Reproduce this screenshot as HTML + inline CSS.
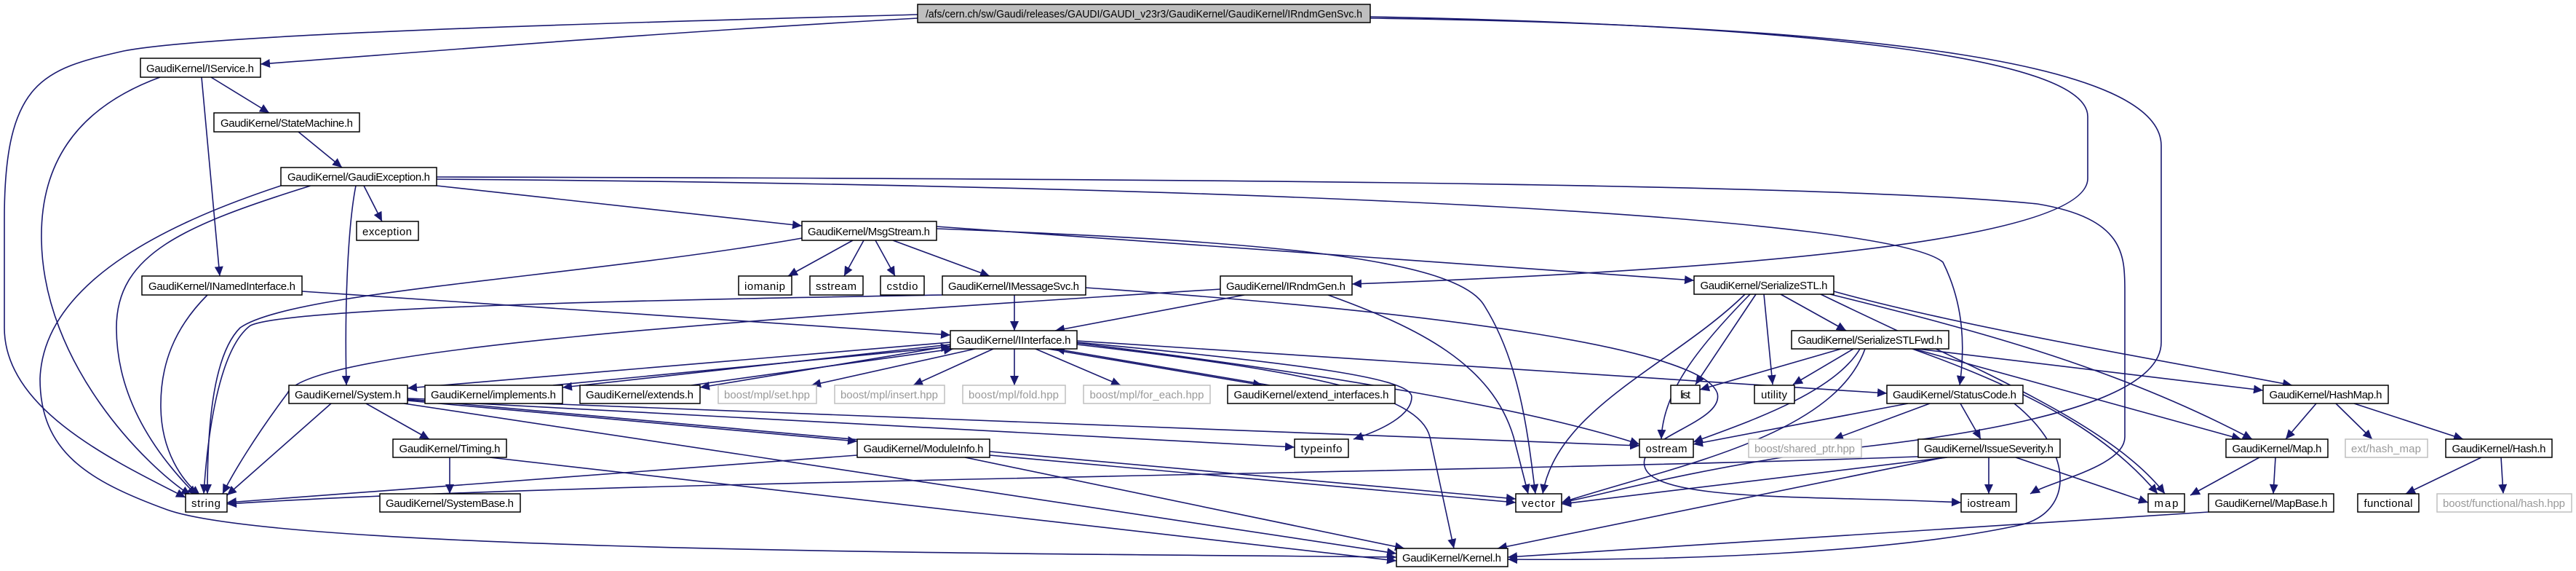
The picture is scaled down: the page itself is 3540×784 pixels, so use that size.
<!DOCTYPE html>
<html><head><meta charset="utf-8"><style>
html,body{margin:0;padding:0;background:#fff;}
svg{display:block;}
text{font-family:"Liberation Sans","DejaVu Sans",sans-serif;font-size:15px;}
</style></head><body>
<svg width="3540" height="784" viewBox="0 0 3540 784" xmlns="http://www.w3.org/2000/svg">
<defs>
<marker id="a" markerUnits="userSpaceOnUse" markerWidth="14" markerHeight="12" refX="13" refY="6" orient="auto">
<path d="M0,0 L13,6 L0,12 z" fill="#191970"/>
</marker>
</defs>
<g fill="none" stroke="#191970" stroke-width="1.6" marker-end="url(#a)">
<path d="M1261,25 C900,45 600,70 358,88"/>
<path d="M1261,20 C900,30 300,45 170,70 C60,95 6,110 6,300 L6,450 C6,560 150,630 255,683"/>
<path d="M1883,23 C2500,35 2869,80 2869,160 L2869,245 C2869,330 2400,370 1858,390"/>
<path d="M1883,25 C2600,35 2970,90 2970,200 L2970,470 C2970,560 2700,600 2500,620 C2300,650 2200,680 2146,690"/>
<path d="M290,106 L370,155"/>
<path d="M277,106 L302,379"/>
<path d="M220,106 C100,150 55,230 57,330 C60,500 200,640 262,680"/>
<path d="M410,181 L470,230"/>
<path d="M500,255 L525,304"/>
<path d="M600,255 L1102,310"/>
<path d="M489,255 C480,300 473,400 476,529"/>
<path d="M427,255 C250,310 160,350 160,450 C160,560 230,640 270,680"/>
<path d="M386,255 C250,300 60,380 55,520 C55,620 120,660 230,700 C400,760 1500,760 1919,765"/>
<path d="M600,246 C1800,255 2600,300 2670,360 C2700,420 2700,480 2693,529"/>
<path d="M600,243 C1500,245 2500,250 2800,280 C2920,300 2920,350 2920,400 L2920,600 C2920,640 2820,660 2790,678"/>
<path d="M285,405 C240,450 220,500 221,560 C222,620 250,660 275,680"/>
<path d="M415,400 L1306,460"/>
<path d="M1172,330 L1083,379"/>
<path d="M1187,330 L1160,379"/>
<path d="M1203,330 L1230,379"/>
<path d="M1227,330 L1360,379"/>
<path d="M1102,327 C800,380 400,400 330,450 C290,490 285,600 285,678"/>
<path d="M1287,314 C1700,330 2000,350 2040,420 C2090,500 2100,600 2110,678"/>
<path d="M1287,311 L2328,385"/>
<path d="M1394,405 L1394,454"/>
<path d="M1295,405 C1000,410 400,420 344,447 C300,480 285,600 280,678"/>
<path d="M1492,395 C2000,430 2340,480 2360,540 C2370,580 2250,600 2260,640 C2270,690 2500,680 2695,690"/>
<path d="M1710,405 L1450,454"/>
<path d="M1677,397 C1000,440 420,480 395,540 C350,600 320,650 306,678"/>
<path d="M1825,405 C1950,450 2050,500 2080,600 L2100,678"/>
<path d="M1306,470 L560,533"/>
<path d="M1306,473 L773,532"/>
<path d="M760,529 L1306,476"/>
<path d="M1306,475 L962,532"/>
<path d="M950,529 L1310,479"/>
<path d="M1340,479 L1115,529"/>
<path d="M1365,479 L1255,529"/>
<path d="M1394,479 L1394,529"/>
<path d="M1423,479 L1540,529"/>
<path d="M1440,479 L1735,529"/>
<path d="M1745,529 L1450,479"/>
<path d="M1480,470 C1800,500 1940,520 1940,545 C1940,570 1900,590 1860,603"/>
<path d="M1480,473 C1800,510 1950,540 1965,600 L1998,753"/>
<path d="M1480,471 C1800,510 2100,560 2253,610"/>
<path d="M1480,468 L2593,540"/>
<path d="M455,554 L312,680"/>
<path d="M503,554 L590,603"/>
<path d="M560,550 L1178,606"/>
<path d="M560,549 L1779,614"/>
<path d="M560,548 L2083,685"/>
<path d="M555,554 L1919,760"/>
<path d="M560,547 L2253,612"/>
<path d="M618,628 L618,678"/>
<path d="M673,628 L1919,770"/>
<path d="M1178,625 L312,690"/>
<path d="M1360,625 L2083,690"/>
<path d="M1326,628 L1930,753"/>
<path d="M2447,404 L2537,454"/>
<path d="M2413,404 L2330,528"/>
<path d="M2424,404 L2436,528"/>
<path d="M2405,404 C2330,480 2285,540 2283,603"/>
<path d="M2398,404 C2300,500 2140,560 2120,678"/>
<path d="M2502,404 C2700,500 2900,580 2975,678"/>
<path d="M2520,400 C2700,450 3000,500 3150,529"/>
<path d="M2515,404 C2700,450 2900,500 3095,603"/>
<path d="M2530,479 L2336,535"/>
<path d="M2547,479 L2464,528"/>
<path d="M2556,479 C2520,540 2400,580 2327,607"/>
<path d="M2563,479 C2520,600 2300,640 2146,690"/>
<path d="M2628,479 C2800,540 2900,600 2965,678"/>
<path d="M2630,479 L3080,603"/>
<path d="M2635,479 L3110,536"/>
<path d="M2622,554 L2327,610"/>
<path d="M2652,554 L2520,603"/>
<path d="M2694,554 L2722,603"/>
<path d="M2768,554 C2850,620 2850,700 2780,720 C2600,760 2300,770 2072,768"/>
<path d="M2636,627 C2000,650 800,660 312,692"/>
<path d="M2676,628 L2146,692"/>
<path d="M2733,628 L2733,678"/>
<path d="M2770,628 L2952,690"/>
<path d="M2672,628 L2058,753"/>
<path d="M3183,554 L3141,603"/>
<path d="M3210,554 L3260,603"/>
<path d="M3235,554 L3385,603"/>
<path d="M3105,628 L3010,680"/>
<path d="M3127,628 L3124,678"/>
<path d="M3410,628 L3306,678"/>
<path d="M3437,628 L3440,678"/>
<path d="M3035,703 L2072,765"/>
</g>
<g id="nodes" stroke-width="1.5">
<!-- helper-less: each node rect + text -->
<rect x="1261" y="6" width="622" height="25" fill="#bfbfbf" stroke="#000"/>
<text x="1572" y="24" text-anchor="middle" textLength="600" lengthAdjust="spacingAndGlyphs">/afs/cern.ch/sw/Gaudi/releases/GAUDI/GAUDI_v23r3/GaudiKernel/GaudiKernel/IRndmGenSvc.h</text>
</g>
<g fill="#fff" stroke="#000" stroke-width="1.5">
<rect x="193" y="80" width="165" height="26"/>
<rect x="294" y="155" width="200" height="26"/>
<rect x="386" y="230" width="214" height="25"/>
<rect x="490" y="304" width="85" height="26"/>
<rect x="1102" y="304" width="185" height="26"/>
<rect x="195" y="379" width="220" height="26"/>
<rect x="1015" y="379" width="73" height="26"/>
<rect x="1113" y="379" width="73" height="26"/>
<rect x="1210" y="379" width="60" height="26"/>
<rect x="1295" y="379" width="197" height="26"/>
<rect x="1677" y="379" width="181" height="26"/>
<rect x="2328" y="379" width="192" height="25"/>
<rect x="1306" y="454" width="174" height="25"/>
<rect x="2462" y="454" width="216" height="25"/>
<rect x="397" y="529" width="163" height="25"/>
<rect x="584" y="529" width="189" height="25"/>
<rect x="797" y="529" width="165" height="25"/>
<rect x="1687" y="529" width="230" height="25"/>
<rect x="2296" y="529" width="40" height="25"/>
<rect x="2411" y="529" width="55" height="25"/>
<rect x="2593" y="529" width="187" height="25"/>
<rect x="3110" y="529" width="172" height="25"/>
<rect x="540" y="603" width="156" height="25"/>
<rect x="1178" y="603" width="182" height="25"/>
<rect x="1779" y="603" width="74" height="25"/>
<rect x="2253" y="603" width="74" height="25"/>
<rect x="2636" y="603" width="195" height="25"/>
<rect x="3059" y="603" width="140" height="25"/>
<rect x="3361" y="603" width="146" height="25"/>
<rect x="255" y="678" width="57" height="25"/>
<rect x="522" y="678" width="193" height="25"/>
<rect x="2083" y="678" width="63" height="25"/>
<rect x="2695" y="678" width="76" height="25"/>
<rect x="2952" y="678" width="50" height="25"/>
<rect x="3035" y="678" width="172" height="25"/>
<rect x="3240" y="678" width="84" height="25"/>
<rect x="1919" y="753" width="153" height="25"/>
</g>
<g fill="#fff" stroke="#bfbfbf" stroke-width="1.5">
<rect x="987" y="529" width="135" height="25"/>
<rect x="1147" y="529" width="151" height="25"/>
<rect x="1323" y="529" width="141" height="25"/>
<rect x="1489" y="529" width="174" height="25"/>
<rect x="2403" y="603" width="155" height="25"/>
<rect x="3223" y="603" width="113" height="25"/>
<rect x="3349" y="678" width="185" height="25"/>
</g>
<g fill="#000" text-anchor="middle" lengthAdjust="spacingAndGlyphs">
<text x="275" y="99" textLength="148">GaudiKernel/IService.h</text>
<text x="394" y="174" textLength="182">GaudiKernel/StateMachine.h</text>
<text x="493" y="248" textLength="196">GaudiKernel/GaudiException.h</text>
<text x="532" y="323" textLength="68">exception</text>
<text x="1194" y="323" textLength="168">GaudiKernel/MsgStream.h</text>
<text x="305" y="398" textLength="202">GaudiKernel/INamedInterface.h</text>
<text x="1051" y="398" textLength="56">iomanip</text>
<text x="1149" y="398" textLength="56">sstream</text>
<text x="1240" y="398" textLength="43">cstdio</text>
<text x="1393" y="398" textLength="180">GaudiKernel/IMessageSvc.h</text>
<text x="1767" y="398" textLength="164">GaudiKernel/IRndmGen.h</text>
<text x="2424" y="397" textLength="175">GaudiKernel/SerializeSTL.h</text>
<text x="1393" y="472" textLength="157">GaudiKernel/IInterface.h</text>
<text x="2570" y="472" textLength="199">GaudiKernel/SerializeSTLFwd.h</text>
<text x="478" y="547" textLength="146">GaudiKernel/System.h</text>
<text x="678" y="547" textLength="172">GaudiKernel/implements.h</text>
<text x="879" y="547" textLength="148">GaudiKernel/extends.h</text>
<text x="1802" y="547" textLength="213">GaudiKernel/extend_interfaces.h</text>
<text x="2316" y="547" textLength="14">list</text>
<text x="2438" y="547" textLength="36">utility</text>
<text x="2686" y="547" textLength="170">GaudiKernel/StatusCode.h</text>
<text x="3196" y="547" textLength="155">GaudiKernel/HashMap.h</text>
<text x="618" y="621" textLength="139">GaudiKernel/Timing.h</text>
<text x="1269" y="621" textLength="165">GaudiKernel/ModuleInfo.h</text>
<text x="1816" y="621" textLength="57">typeinfo</text>
<text x="2290" y="621" textLength="57">ostream</text>
<text x="2733" y="621" textLength="178">GaudiKernel/IssueSeverity.h</text>
<text x="3129" y="621" textLength="123">GaudiKernel/Map.h</text>
<text x="3434" y="621" textLength="129">GaudiKernel/Hash.h</text>
<text x="283" y="696" textLength="40">string</text>
<text x="618" y="696" textLength="176">GaudiKernel/SystemBase.h</text>
<text x="2114" y="696" textLength="46">vector</text>
<text x="2733" y="696" textLength="59">iostream</text>
<text x="2977" y="696" textLength="33">map</text>
<text x="3121" y="696" textLength="155">GaudiKernel/MapBase.h</text>
<text x="3282" y="696" textLength="67">functional</text>
<text x="1995" y="771" textLength="136">GaudiKernel/Kernel.h</text>
</g>
<g fill="#999" text-anchor="middle" lengthAdjust="spacingAndGlyphs">
<text x="1054" y="547" textLength="118">boost/mpl/set.hpp</text>
<text x="1222" y="547" textLength="134">boost/mpl/insert.hpp</text>
<text x="1393" y="547" textLength="124">boost/mpl/fold.hpp</text>
<text x="1576" y="547" textLength="157">boost/mpl/for_each.hpp</text>
<text x="2480" y="621" textLength="138">boost/shared_ptr.hpp</text>
<text x="3279" y="621" textLength="96">ext/hash_map</text>
<text x="3441" y="696" textLength="168">boost/functional/hash.hpp</text>
</g>
</svg>
</body></html>
